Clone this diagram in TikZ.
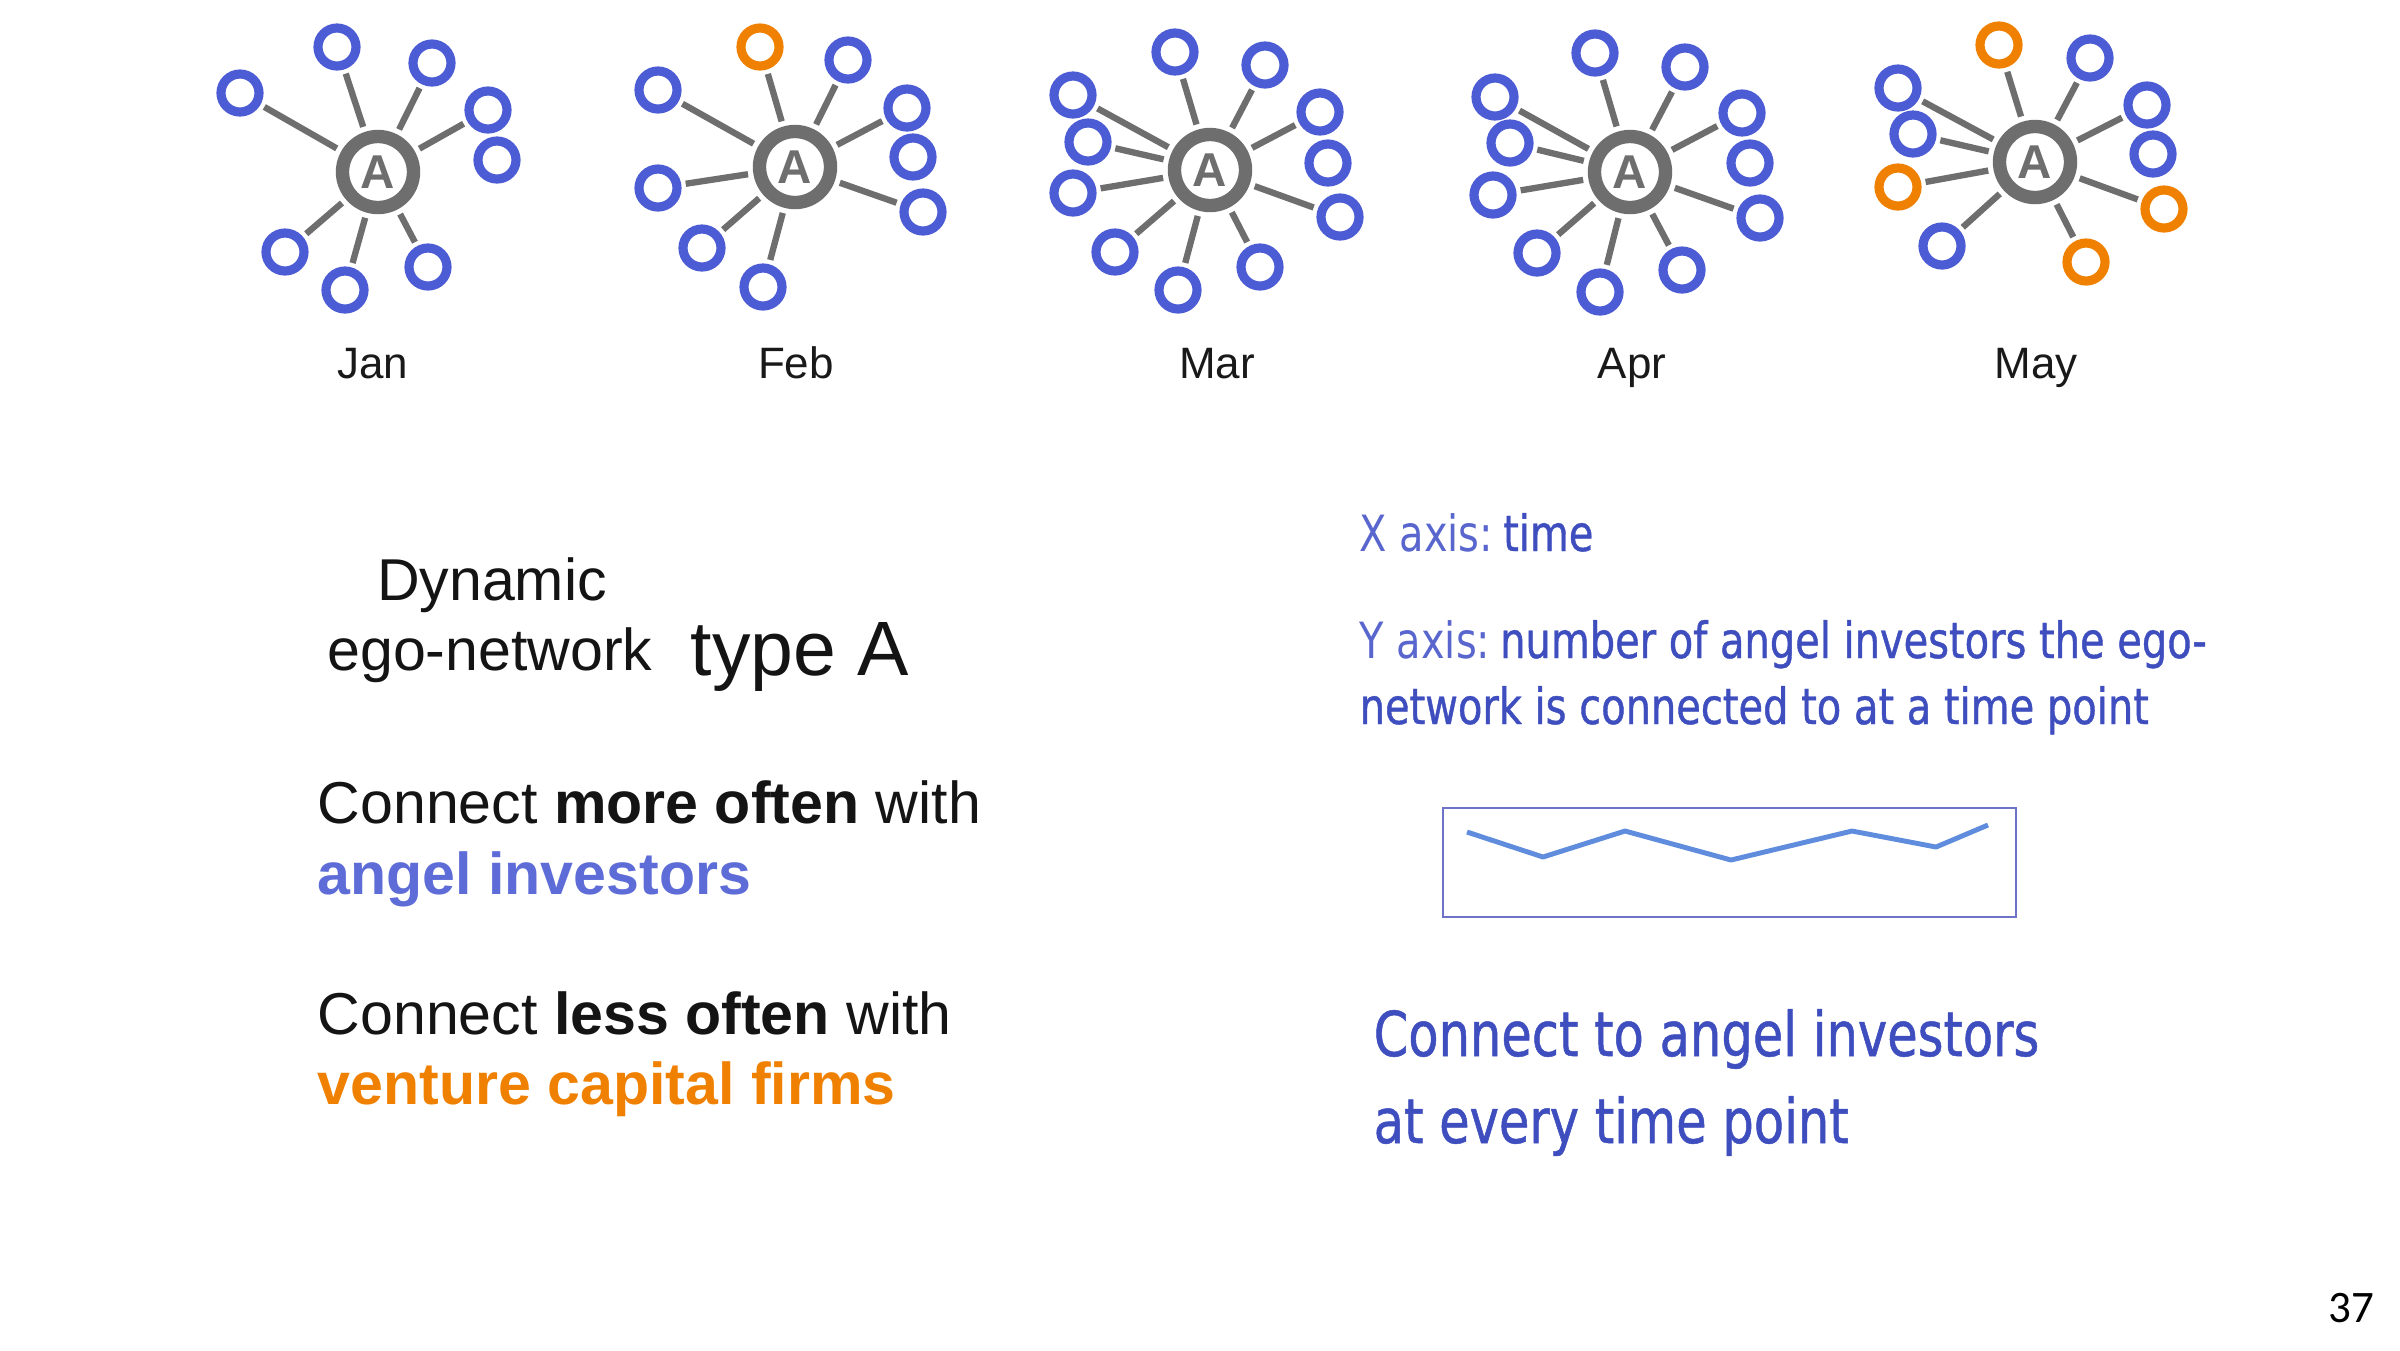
\documentclass[tikz,border=0pt]{standalone}
\usepackage{fontspec}
\setmainfont{Liberation Sans}
\newfontfamily\narrowfont[FakeStretch=0.8]{DejaVu Sans}
\newfontfamily\narrowmed[FakeStretch=0.8,FakeBold=0.8]{DejaVu Sans}
\newfontfamily\slidenum{Carlito}
\definecolor{angel}{RGB}{76,92,212}
\definecolor{vc}{RGB}{240,128,0}
\definecolor{egogray}{RGB}{110,110,110}
\definecolor{axislbl}{RGB}{88,102,205}
\definecolor{axisval}{RGB}{62,78,190}
\definecolor{sparkline}{RGB}{95,140,220}
\definecolor{sparkbox}{RGB}{110,115,200}
\begin{document}
\begin{tikzpicture}[x=0.01cm, y=-0.01cm,
		ego/.style={circle, draw=egogray, line width=3.8pt, minimum size=0.71cm, inner sep=0pt, outer sep=0.12cm, text=egogray, font=\bfseries\fontsize{13.5}{13.5}\selectfont},
		peer/.style={circle, draw=angel, line width=2.6pt, minimum size=0.38cm, inner sep=0pt, outer sep=0.09cm},
		tie/.style={egogray, line width=1.8pt},
		month/.style={anchor=base, text=black!90, font=\fontsize{12.5}{15}\selectfont},
		bigtxt/.style={anchor=base west, inner sep=0pt, text=black!92, font=\fontsize{16.8}{20}\selectfont},
		axtxt/.style={anchor=base west, inner sep=0pt, text=axislbl, font=\narrowfont\fontsize{14.2}{17}\selectfont},
		concl/.style={anchor=base west, inner sep=0pt, text=axisval, font=\narrowmed\fontsize{17.6}{21}\selectfont}]
	\path[fill=white, use as bounding box] (0,0) rectangle (2400,1350);

	% ego-networks, one per month
	\node[ego] (jan) at (378,172) {A};
	\foreach \x/\y/\c [count=\i] in {240/93/angel, 337/47/angel, 432/63/angel, 488/110/angel, 285/252/angel, 345/290/angel, 428/267/angel} {
			\node[peer, draw=\c] (jan\i) at (\x,\y) {};
			\draw[tie] (jan) -- (jan\i);
		}
	\node[peer] (jan0) at (497,160) {};
	\node[month] (janlbl) at (373,378) {Jan};

	\node[ego] (feb) at (795,167) {A};
	\foreach \x/\y/\c [count=\i] in {760/47/vc, 848/60/angel, 658/90/angel, 907/108/angel, 658/188/angel, 923/212/angel, 702/248/angel, 763/287/angel} {
			\node[peer, draw=\c] (feb\i) at (\x,\y) {};
			\draw[tie] (feb) -- (feb\i);
		}
	\node[peer] (feb0) at (913,157) {};
	\node[month] (feblbl) at (796,378) {Feb};

	\node[ego] (mar) at (1210,170) {A};
	\foreach \x/\y/\c [count=\i] in {1175/52/angel, 1265/65/angel, 1073/95/angel, 1320/112/angel, 1088/142/angel, 1073/193/angel, 1340/217/angel, 1115/252/angel, 1260/267/angel, 1178/290/angel} {
			\node[peer, draw=\c] (mar\i) at (\x,\y) {};
			\draw[tie] (mar) -- (mar\i);
		}
	\node[peer] (mar0) at (1328,163) {};
	\node[month] (marlbl) at (1217,378) {Mar};

	\node[ego] (apr) at (1630,172) {A};
	\foreach \x/\y/\c [count=\i] in {1595/53/angel, 1685/67/angel, 1495/97/angel, 1742/113/angel, 1510/143/angel, 1493/195/angel, 1760/218/angel, 1537/253/angel, 1682/270/angel, 1600/292/angel} {
			\node[peer, draw=\c] (apr\i) at (\x,\y) {};
			\draw[tie] (apr) -- (apr\i);
		}
	\node[peer] (apr0) at (1750,163) {};
	\node[month] (aprlbl) at (1632,378) {Apr};

	\node[ego] (may) at (2035,162) {A};
	\foreach \x/\y/\c [count=\i] in {1999/45/vc, 2090/58/angel, 1898/88/angel, 2147/105/angel, 1913/134/angel, 1898/187/vc, 2164/209/vc, 1942/246/angel, 2086/262/vc} {
			\node[peer, draw=\c] (may\i) at (\x,\y) {};
			\draw[tie] (may) -- (may\i);
		}
	\node[peer] (may0) at (2153,154) {};
	\node[month] (maylbl) at (2036,378) {May};

	% left column
	\node[bigtxt, anchor=base] (dyn1) at (492,600) {Dynamic};
	\node[bigtxt, anchor=base] (dyn2) at (490,670) {ego-network};
	\node[bigtxt, font=\fontsize{21.9}{26}\selectfont] (typeA) at (690,675) {type A};
	\node[bigtxt] (more) at (317,823) {Connect \textbf{more often} with};
	\node[bigtxt, text=angel!90] (angels) at (317,894) {\textbf{angel investors}};
	\node[bigtxt] (less) at (317,1034) {Connect \textbf{less often} with};
	\node[bigtxt, text=vc] (firms) at (317,1104) {\textbf{venture capital firms}};

	% right column
	\node[axtxt] (xaxis) at (1359,551) {X axis:\hspace{-2pt} {\narrowmed\color{axisval}time}};
	\node[axtxt] (yaxis1) at (1359,658) {Y axis:\hspace{-2pt} {\narrowmed\color{axisval}number of angel investors the ego-}};
	\node[axtxt, text=axisval, font=\narrowmed\fontsize{14.2}{17}\selectfont] (yaxis2) at (1359,724) {network is connected to at a time point};
	\draw[sparkbox, line width=0.6pt] (1443,808) rectangle (2016,917);
	\draw[sparkline, line width=1.4pt, line join=round] (1467,832) -- (1543,857) -- (1625,831) -- (1731,860) -- (1852,831) -- (1936,847) -- (1988,825);
	\node[concl] (concl1) at (1373,1056) {Connect to angel investors};
	\node[concl] (concl2) at (1373,1143) {at every time point};

	\node[anchor=base, font=\slidenum\fontsize{12.8}{15}\selectfont] (pgnum) at (2351,1322) {37};
\end{tikzpicture}
\end{document}
